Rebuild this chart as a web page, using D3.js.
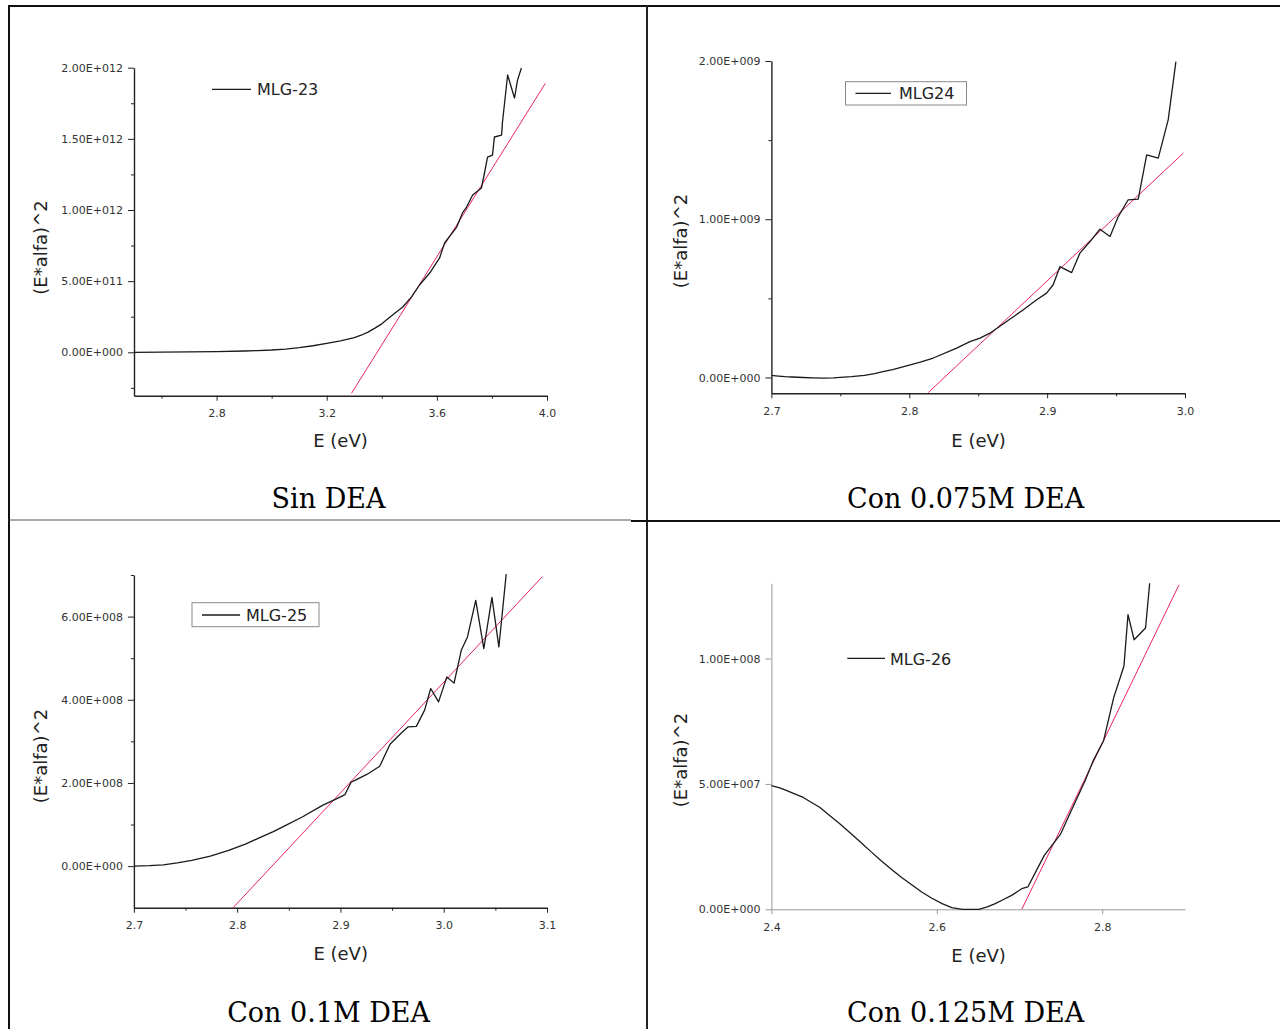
<!DOCTYPE html>
<html>
<head>
<meta charset="utf-8">
<script src="https://cdn.jsdelivr.net/npm/d3@7"></script>
<style>
  body { margin: 0; background: #fff; }
  svg { display: block; }
</style>
</head>
<body>
<div id="chart"></div>
<script>
// MLG-23 (Sin DEA)
var mlg23E = [2.50, 2.60, 2.70, 2.80, 2.90, 2.95, 3.00, 3.05, 3.10, 3.15, 3.20, 3.25, 3.30, 3.325, 3.35, 3.375, 3.40, 3.43, 3.476, 3.508, 3.537, 3.574, 3.61, 3.628, 3.672, 3.693, 3.708, 3.73, 3.762, 3.773, 3.784, 3.802, 3.809, 3.835, 3.838, 3.857, 3.882, 3.893, 3.907];
var mlg23V = [0, 1.5e9, 3e9, 5e9, 9e9, 1.2e10, 1.6e10, 2.3e10, 3.3e10, 4.6e10, 6.3e10, 8.0e10, 1.03e11, 1.2e11, 1.42e11, 1.7e11, 2.0e11, 2.48e11, 3.18e11, 3.89e11, 4.73e11, 5.57e11, 6.63e11, 7.68e11, 8.8e11, 9.79e11, 1.021e12, 1.105e12, 1.155e12, 1.26e12, 1.372e12, 1.386e12, 1.513e12, 1.527e12, 1.611e12, 1.949e12, 1.787e12, 1.913e12, 1.998e12];
var fit23E = [3.29, 3.994];
var fit23V = [-2.88e11, 1.89e12];

// MLG24 (Con 0.075M DEA)
var mlg24E = [2.700, 2.705, 2.710, 2.715, 2.723, 2.730, 2.738, 2.745, 2.750, 2.758, 2.7675, 2.775, 2.780, 2.788, 2.798, 2.808, 2.8174, 2.8344, 2.844, 2.8513, 2.8585, 2.8706, 2.8827, 2.8924, 2.8996, 2.9044, 2.9093, 2.9178, 2.9238, 2.9311, 2.9383, 2.9456, 2.9516, 2.9588, 2.9661, 2.9722, 2.9806, 2.9878, 2.9934];
var mlg24V = [1.3e7, 9e6, 5e6, 3e6, 0, -2e6, -4e6, -3e6, 0, 5e6, 1.3e7, 2.4e7, 3.6e7, 5e7, 7.4e7, 9.7e7, 1.23e8, 1.86e8, 2.27e8, 2.49e8, 2.80e8, 3.54e8, 4.28e8, 4.91e8, 5.33e8, 5.86e8, 7.01e8, 6.63e8, 7.86e8, 8.59e8, 9.37e8, 8.91e8, 1.017e9, 1.123e9, 1.127e9, 1.407e9, 1.386e9, 1.628e9, 1.996e9];
var fit24E = [2.8138, 2.9987];
var fit24V = [-9.5e7, 1.4175e9];

// MLG-25 (Con 0.1M DEA)
var mlg25E = [2.70, 2.715, 2.7285, 2.742, 2.756, 2.774, 2.7917, 2.808, 2.823, 2.835, 2.847, 2.863, 2.8826, 2.8945, 2.9044, 2.9103, 2.914, 2.926, 2.938, 2.948, 2.9597, 2.9656, 2.9735, 2.9815, 2.9874, 2.995, 3.003, 3.010, 3.0131, 3.017, 3.023, 3.031, 3.0388, 3.0467, 3.0534, 3.0605];
var mlg25V = [0, 1.2e6, 3.2e6, 7.8e6, 1.36e7, 2.4e7, 3.77e7, 5.3e7, 6.98e7, 8.3e7, 9.79e7, 1.18e8, 1.46e8, 1.6e8, 1.72e8, 2.02e8, 2.06e8, 2.21e8, 2.40e8, 2.93e8, 3.22e8, 3.35e8, 3.36e8, 3.75e8, 4.27e8, 3.95e8, 4.55e8, 4.40e8, 4.75e8, 5.19e8, 5.51e8, 6.39e8, 5.23e8, 6.46e8, 5.27e8, 7.02e8];
var fit25E = [2.7957, 3.0953];
var fit25V = [-1.01e8, 6.955e8];

// MLG-26 (Con 0.125M DEA)
var mlg26E = [2.40, 2.41, 2.4188, 2.428, 2.4385, 2.448, 2.4583, 2.47, 2.483, 2.495, 2.5076, 2.52, 2.5323, 2.545, 2.557, 2.57, 2.5817, 2.594, 2.6064, 2.618, 2.631, 2.6508, 2.661, 2.6706, 2.68, 2.6904, 2.7027, 2.71, 2.7299, 2.7496, 2.7644, 2.7792, 2.789, 2.8015, 2.8138, 2.8262, 2.8311, 2.8385, 2.8523, 2.8573];
var mlg26V = [4.93e7, 4.84e7, 4.73e7, 4.6e7, 4.46e7, 4.27e7, 4.07e7, 3.75e7, 3.40e7, 3.05e7, 2.68e7, 2.31e7, 1.95e7, 1.6e7, 1.28e7, 9.7e6, 6.9e6, 4.4e6, 2.25e6, 7e5, 0, 0, 1e6, 2.25e6, 3.8e6, 5.56e6, 8.2e6, 8.9e6, 2.15e7, 3.0e7, 4.07e7, 5.13e7, 5.92e7, 6.72e7, 8.44e7, 9.70e7, 1.175e8, 1.075e8, 1.122e8, 1.30e8];
var fit26E = [2.7027, 2.8928];
var fit26V = [0, 1.294e8];

var captions = ["Sin DEA", "Con 0.075M DEA", "Con 0.1M DEA", "Con 0.125M DEA"];

var panels = [
  { name: "MLG-23", E: mlg23E, V: mlg23V, fitE: fit23E, fitV: fit23V,
    left: 134, right: 547, top: 67.7, bottom: 395.7,
    xDom: [2.5, 4.0], yDom: [-3.05e11, 2e12],
    xMajor: [2.8, 3.2, 3.6, 4.0], xMinor: [2.6, 3.0, 3.4, 3.8],
    yMajor: [0, 5e11, 1e12, 1.5e12, 2e12], yMinor: [-2.5e11, 2.5e11, 7.5e11, 1.25e12, 1.75e12],
    axisColor: "#222", box: false,
    leg: { x1: 212, x2: 251, y: 89.3, tx: 257, ty: 95 },
    xl: { x: 340.5, y: 447 }, yl: { x: 47, y: 247.5 }, cap: { x: 328.6, y: 508 } },
  { name: "MLG24", E: mlg24E, V: mlg24V, fitE: fit24E, fitV: fit24V,
    left: 771.4, right: 1185, top: 61, bottom: 393.3,
    xDom: [2.7, 3.0], yDom: [-1e8, 2e9],
    xMajor: [2.7, 2.8, 2.9, 3.0], xMinor: [2.75, 2.85, 2.95],
    yMajor: [0, 1e9, 2e9], yMinor: [5e8, 1.5e9],
    axisColor: "#222", box: { x: 845.5, y: 81.7, w: 121, h: 23.3 },
    leg: { x1: 855.5, x2: 891, y: 93.3, tx: 899, ty: 98.5 },
    xl: { x: 978.6, y: 446.7 }, yl: { x: 687, y: 241 }, cap: { x: 965.7, y: 508 } },
  { name: "MLG-25", E: mlg25E, V: mlg25V, fitE: fit25E, fitV: fit25V,
    left: 133.9, right: 547, top: 575, bottom: 907.7,
    xDom: [2.7, 3.1], yDom: [-1e8, 7e8],
    xMajor: [2.7, 2.8, 2.9, 3.0, 3.1], xMinor: [2.75, 2.85, 2.95, 3.05],
    yMajor: [0, 2e8, 4e8, 6e8], yMinor: [1e8, 3e8, 5e8, 7e8],
    axisColor: "#222", box: { x: 192, y: 602.7, w: 127, h: 24 },
    leg: { x1: 202, x2: 240, y: 615, tx: 246, ty: 620.7 },
    xl: { x: 340.7, y: 960 }, yl: { x: 47, y: 756 }, cap: { x: 328.6, y: 1022 } },
  { name: "MLG-26", E: mlg26E, V: mlg26V, fitE: fit26E, fitV: fit26V,
    left: 771.4, right: 1185, top: 583.3, bottom: 909.3,
    xDom: [2.4, 2.9], yDom: [0, 1.3e8],
    xMajor: [2.4, 2.6, 2.8], xMinor: [],
    yMajor: [0, 5e7, 1e8], yMinor: [],
    axisColor: "#9a9a9a", box: false,
    leg: { x1: 847.3, x2: 885, y: 658.3, tx: 890, ty: 665 },
    xl: { x: 978.6, y: 961.7 }, yl: { x: 687, y: 760 }, cap: { x: 965.7, y: 1022 } }
];

function sciFmt(v) {
  var s = v.toExponential(2).split("e");
  var ex = parseInt(s[1], 10);
  var sign = ex < 0 ? "-" : "+";
  var digits = String(Math.abs(ex));
  while (digits.length < 3) digits = "0" + digits;
  return s[0] + "E" + sign + digits;
}

var svg = d3.select("#chart").append("svg")
  .attr("width", 1280).attr("height", 1029);

// table grid
var grid = svg.append("g");
grid.append("line").attr("x1", 8).attr("x2", 1280).attr("y1", 6).attr("y2", 6)
  .attr("stroke", "#111").attr("stroke-width", 2);
grid.append("line").attr("x1", 9).attr("x2", 9).attr("y1", 5).attr("y2", 1029)
  .attr("stroke", "#111").attr("stroke-width", 2);
grid.append("line").attr("x1", 647).attr("x2", 647).attr("y1", 5).attr("y2", 1029)
  .attr("stroke", "#222").attr("stroke-width", 2);
grid.append("line").attr("x1", 9).attr("x2", 631).attr("y1", 520).attr("y2", 520)
  .attr("stroke", "#555").attr("stroke-width", 1);
grid.append("line").attr("x1", 631).attr("x2", 1280).attr("y1", 521).attr("y2", 521)
  .attr("stroke", "#111").attr("stroke-width", 2);

panels.forEach(function (p, i) {
  var x = d3.scaleLinear().domain(p.xDom).range([p.left, p.right]);
  var y = d3.scaleLinear().domain(p.yDom).range([p.bottom, p.top]);
  var g = svg.append("g");

  // minor ticks
  g.append("g").attr("transform", "translate(0," + p.bottom + ")")
    .style("color", p.axisColor)
    .call(d3.axisBottom(x).tickValues(p.xMinor).tickSize(3).tickSizeOuter(0).tickFormat(""))
    .call(function (a) { a.select(".domain").remove(); });
  g.append("g").attr("transform", "translate(" + p.left + ",0)")
    .style("color", p.axisColor)
    .call(d3.axisLeft(y).tickValues(p.yMinor).tickSize(3).tickSizeOuter(0).tickFormat(""))
    .call(function (a) { a.select(".domain").remove(); });

  // major axes
  var xa = g.append("g").attr("transform", "translate(0," + p.bottom + ")")
    .style("color", p.axisColor)
    .call(d3.axisBottom(x).tickValues(p.xMajor).tickSize(5).tickPadding(9).tickSizeOuter(0)
      .tickFormat(d3.format(".1f")));
  var ya = g.append("g").attr("transform", "translate(" + p.left + ",0)")
    .style("color", p.axisColor)
    .call(d3.axisLeft(y).tickValues(p.yMajor).tickSize(6).tickPadding(5).tickSizeOuter(0)
      .tickFormat(sciFmt));
  [xa, ya].forEach(function (a) {
    a.selectAll("path, line").attr("stroke-width", p.axisColor === "#222" ? 1.4 : 1);
    a.selectAll("text").attr("fill", "#333")
      .style("font-family", "'DejaVu Sans', sans-serif").style("font-size", "11px");
  });
  g.selectAll(".tick line").attr("stroke-width", 1);

  // fit line
  g.append("path")
    .datum(d3.zip(p.fitE, p.fitV))
    .attr("fill", "none").attr("stroke", "#e8265a").attr("stroke-width", 1)
    .attr("d", d3.line().x(function (d) { return x(d[0]); }).y(function (d) { return y(d[1]); }));

  // data line
  g.append("path")
    .datum(d3.zip(p.E, p.V))
    .attr("fill", "none").attr("stroke", "#1a1a1a").attr("stroke-width", 1.3)
    .attr("stroke-linejoin", "round")
    .attr("d", d3.line().x(function (d) { return x(d[0]); }).y(function (d) { return y(d[1]); }));

  // legend
  if (p.box) {
    g.append("rect").attr("x", p.box.x).attr("y", p.box.y)
      .attr("width", p.box.w).attr("height", p.box.h)
      .attr("fill", "#fff").attr("stroke", "#8a8a8a").attr("stroke-width", 1);
  }
  g.append("line").attr("x1", p.leg.x1).attr("x2", p.leg.x2)
    .attr("y1", p.leg.y).attr("y2", p.leg.y)
    .attr("stroke", "#1a1a1a").attr("stroke-width", 1.3);
  g.append("text").attr("x", p.leg.tx).attr("y", p.leg.ty)
    .attr("fill", "#222").style("font-family", "'DejaVu Sans', sans-serif")
    .style("font-size", "16px").text(p.name);

  // axis titles
  g.append("text").attr("x", p.xl.x).attr("y", p.xl.y)
    .attr("text-anchor", "middle").attr("fill", "#222")
    .style("font-family", "'DejaVu Sans', sans-serif").style("font-size", "18px")
    .text("E (eV)");
  g.append("text")
    .attr("transform", "translate(" + p.yl.x + "," + p.yl.y + ") rotate(-90)")
    .attr("text-anchor", "middle").attr("fill", "#222")
    .style("font-family", "'DejaVu Sans', sans-serif").style("font-size", "18px")
    .text("(E*alfa)^2");

  // caption
  g.append("text").attr("x", p.cap.x).attr("y", p.cap.y)
    .attr("text-anchor", "middle").attr("fill", "#000")
    .style("font-family", "'DejaVu Serif', serif").style("font-size", "27px")
    .text(captions[i]);
});
</script>
</body>
</html>
